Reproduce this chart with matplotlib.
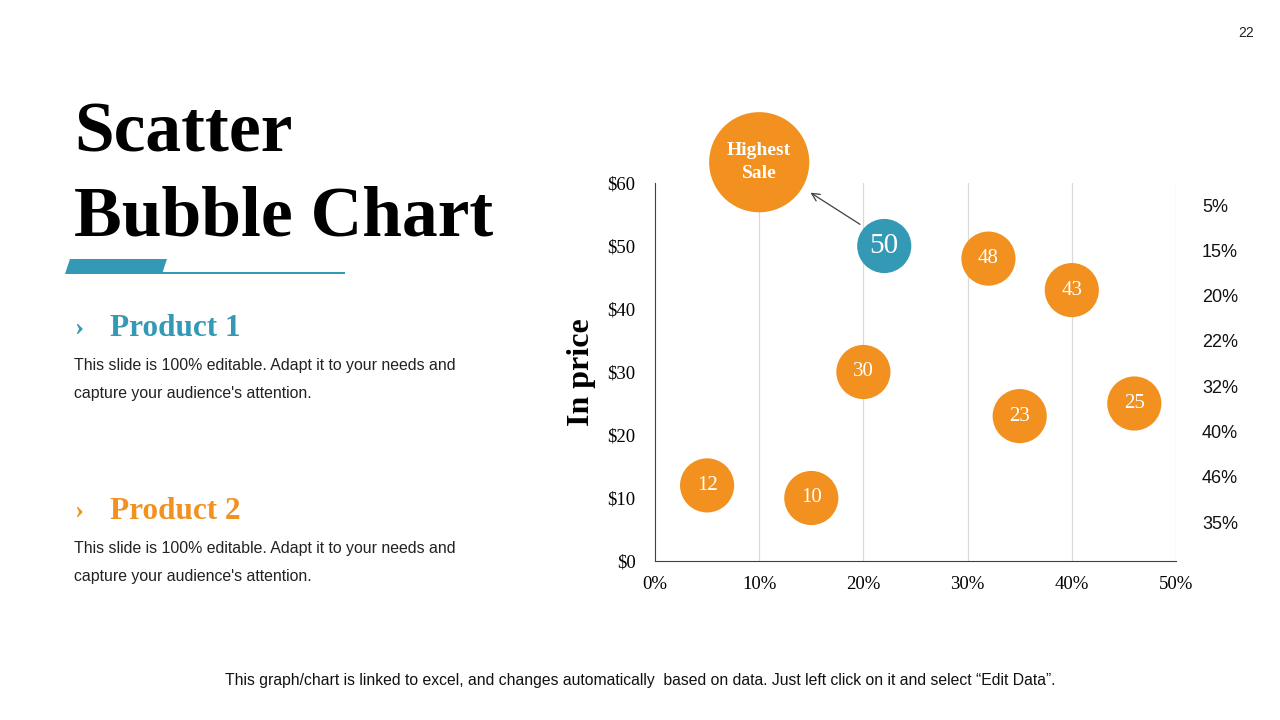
import matplotlib
matplotlib.use("Agg")
import matplotlib.pyplot as plt
from matplotlib.patches import Polygon, Rectangle

# данні графіка
share_pct = [5, 15, 20, 22, 32, 40, 46, 35]
price = [12, 10, 30, 50, 48, 43, 25, 23]
bubble_labels = ["12", "10", "30", "50", "48", "43", "25", "23"]
highlight = 3  # індекс бульбашки "50"
right_labels = ["5%", "15%", "20%", "22%", "32%", "40%", "46%", "35%"]
x_ticks = [0, 10, 20, 30, 40, 50]
x_tick_labels = ["0%", "10%", "20%", "30%", "40%", "50%"]
y_ticks = [0, 10, 20, 30, 40, 50, 60]
y_tick_labels = ["$0", "$10", "$20", "$30", "$40", "$50", "$60"]
top_bubble = (10, 63.3)

ORANGE = "#F2911F"
TEAL = "#3399B5"
SERIF = "Liberation Serif"
SANS = "Liberation Sans"

W, H = 1280, 720
fig = plt.figure(figsize=(12.8, 7.2), dpi=100)
fig.patch.set_facecolor("white")


def fx(px):
    return px / W


def fy(py):
    return 1 - py / H


# Заголовок
fig.text(fx(74), fy(152), "Scatter", fontsize=51.5, fontweight="bold", family=SERIF, va="baseline")
fig.text(fx(74), fy(236), "Bubble Chart", fontsize=51.5, fontweight="bold", family=SERIF, va="baseline")

# декоративна смужка
fig.patches.append(Polygon([(fx(65), fy(274)), (fx(70), fy(259)), (fx(167), fy(259)), (fx(162), fy(274))],
                           closed=True, facecolor=TEAL, edgecolor="none", transform=fig.transFigure))
fig.patches.append(Rectangle((fx(160), fy(274)), fx(345) - fx(160), 2.5 / H,
                             facecolor=TEAL, edgecolor="none", transform=fig.transFigure))

# Продукти
body = ["This slide is 100% editable. Adapt it to your needs and",
        "capture your audience's attention."]
for y0, name, col in [(336, "Product 1", TEAL), (519, "Product 2", ORANGE)]:
    fig.text(fx(74), fy(y0 - 1), "›", fontsize=20, fontweight="bold", family=SERIF, color=col, va="baseline")
    fig.text(fx(110), fy(y0), name, fontsize=22.5, fontweight="bold", family=SERIF, color=col, va="baseline")
    for k, line in enumerate(body):
        fig.text(fx(74), fy(y0 + 34 + k * 28), line, fontsize=11.4, family=SANS, color="#222222",
                 va="baseline")

fig.text(fx(640), fy(685), "This graph/chart is linked to excel, and changes automatically  based on data. "
         "Just left click on it and select \u201cEdit Data\u201d.", fontsize=11.3, family=SANS,
         ha="center", va="baseline", color="#111111")
fig.text(fx(1254), fy(37), "22", fontsize=10, family=SANS, ha="right", va="baseline", color="#222222")

# Графік
ax = fig.add_axes([fx(655), fy(561), fx(1176) - fx(655), fy(183) - fy(561)])
ax.set_xlim(0, 50)
ax.set_ylim(0, 60)
ax.set_xticks(x_ticks)
ax.set_xticklabels(x_tick_labels, family=SERIF, fontsize=13.5)
ax.set_yticks(y_ticks)
ax.set_yticklabels(y_tick_labels, family=SERIF, fontsize=13.5)
ax.tick_params(axis="x", length=0, pad=11)
ax.tick_params(axis="y", length=0, pad=14)
for s in ["top", "right"]:
    ax.spines[s].set_visible(False)
ax.spines["left"].set_color("#404040")
ax.spines["bottom"].set_color("#404040")
for xv in x_ticks[1:]:
    ax.axvline(xv, color="#D9D9D9", linewidth=0.9, zorder=0)

ax.set_ylabel("In price", family=SERIF, fontsize=23, fontweight="bold", labelpad=8)

colors = [TEAL if i == highlight else ORANGE for i in range(len(price))]
ax.scatter(share_pct, price, s=1520, c=colors, edgecolors="none", zorder=3, clip_on=False)
for i, (xv, yv, lab) in enumerate(zip(share_pct, price, bubble_labels)):
    ax.text(xv, yv, lab, family=SERIF, color="white", fontsize=21 if i == highlight else 15,
            ha="center", va="center", zorder=4)

# Найвищий продаж
ax.scatter([top_bubble[0]], [top_bubble[1]], s=5200, c=ORANGE, edgecolors="none", zorder=3, clip_on=False)
ax.text(top_bubble[0], top_bubble[1], "Highest\nSale", family=SERIF, fontweight="bold", color="white",
        fontsize=14, ha="center", va="center", zorder=4, linespacing=1.5)
ax.annotate("", xy=(14.7, 58.7), xytext=(19.9, 53.2),
            arrowprops=dict(arrowstyle="->", color="#404040", lw=0.9, mutation_scale=14),
            annotation_clip=False, zorder=2)

# праві підписи
for i, lab in enumerate(right_labels):
    fig.text(fx(1202), fy(207 + i * 45.3), lab, fontsize=13, family=SANS, va="center", color="#111111")

fig.savefig("out.png", dpi=100, facecolor="white")
